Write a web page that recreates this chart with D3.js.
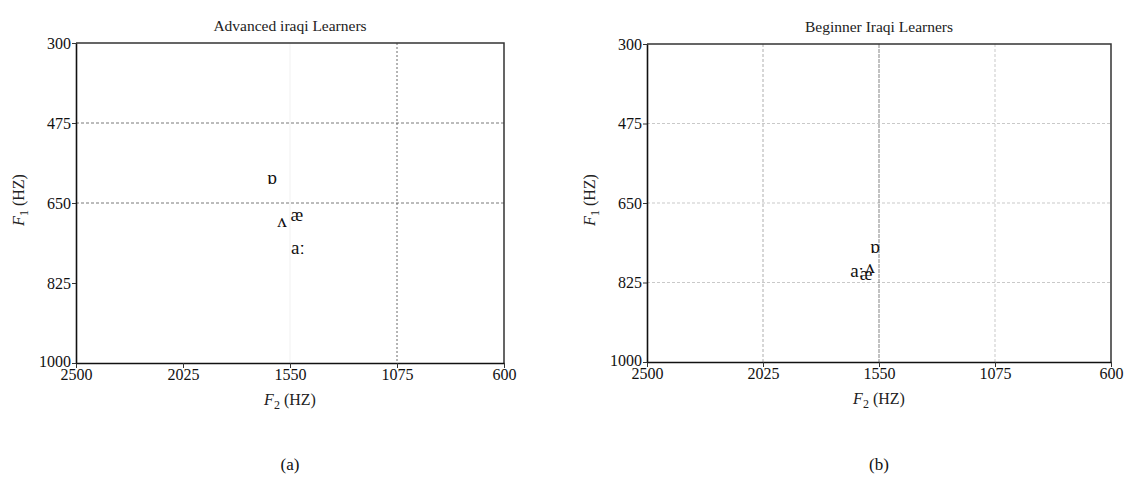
<!DOCTYPE html>
<html>
<head>
<meta charset="utf-8">
<script src="https://cdn.jsdelivr.net/npm/d3@7"></script>
<style>
    body { margin: 0; background: #fff; }
    svg { font-family: "Liberation Serif", "DejaVu Serif", serif; }
</style>
</head>
<body>
<div id="chart"></div>
<script>
// vowel formant data
var vowels = ["ɒ", "ʌ", "æ", "aː"];
var advancedF2 = [1630, 1586, 1520, 1515];
var advancedF1 = [595, 691, 676, 748];
var beginnerF2 = [1566, 1587, 1603, 1640];
var beginnerF1 = [747, 791, 806, 800];
var f2Ticks = [2500, 2025, 1550, 1075, 600];
var f1Ticks = [300, 475, 650, 825, 1000];

var svg = d3.select("#chart")
    .append("svg")
    .attr("width", 1125)
    .attr("height", 478);

function drawPanel(opts) {
    var x = d3.scaleLinear().domain([2500, 600]).range([opts.left, opts.right]);
    var y = d3.scaleLinear().domain([300, 1000]).range([opts.top, opts.bottom]);
    var g = svg.append("g");

    // grid lines
    g.selectAll(".hgrid")
        .data(opts.hGrid)
        .enter()
        .append("line")
        .attr("x1", opts.left).attr("x2", opts.right)
        .attr("y1", d => y(d)).attr("y2", d => y(d))
        .attr("stroke", opts.hColor)
        .attr("stroke-width", 0.8)
        .attr("stroke-dasharray", "3,2");

    g.selectAll(".vgrid")
        .data(opts.vGrid)
        .enter()
        .append("line")
        .attr("x1", d => x(d.v)).attr("x2", d => x(d.v))
        .attr("y1", opts.top).attr("y2", opts.bottom)
        .attr("stroke", d => d.color)
        .attr("stroke-width", 0.8)
        .attr("stroke-dasharray", d => d.dash);

    // top and right frame
    g.append("path")
        .attr("d", "M" + opts.left + "," + opts.top + "H" + opts.right + "V" + opts.bottom)
        .attr("fill", "none")
        .attr("stroke", "#333")
        .attr("stroke-width", 1.5);

    // axes
    var xAxis = g.append("g")
        .attr("transform", "translate(0," + opts.bottom + ")")
        .call(d3.axisBottom(x).tickValues(f2Ticks).tickFormat(d3.format("d"))
            .tickSize(5).tickSizeOuter(0).tickPadding(1));
    var yAxis = g.append("g")
        .attr("transform", "translate(" + opts.left + ",0)")
        .call(d3.axisLeft(y).tickValues(f1Ticks).tickFormat(d3.format("d"))
            .tickSize(4).tickSizeOuter(0).tickPadding(1));

    [xAxis, yAxis].forEach(function (a) {
        a.attr("font-family", null);
        a.select(".domain").attr("stroke", "#111").attr("stroke-width", 1.6);
        a.selectAll(".tick line").attr("stroke", "#333");
        a.selectAll("text")
            .style("font-size", "16px")
            .attr("fill", "#111");
    });
    // lowest y label sits just above the x labels, as in the figure
    yAxis.selectAll(".tick text").filter(d => d === 1000).attr("dy", "0.2em");

    // title
    g.append("text")
        .attr("x", (opts.left + opts.right) / 2)
        .attr("y", opts.top - 12)
        .attr("text-anchor", "middle")
        .style("font-size", "15.5px")
        .attr("fill", "#222")
        .text(opts.title);

    // x axis label
    var xl = g.append("text")
        .attr("x", (opts.left + opts.right) / 2)
        .attr("y", opts.bottom + 42)
        .attr("text-anchor", "middle")
        .style("font-size", "16px")
        .attr("fill", "#222");
    xl.append("tspan").style("font-style", "italic").text("F");
    xl.append("tspan").attr("dy", 4).style("font-size", "12px").text("2");
    xl.append("tspan").attr("dy", -4).text(" (HZ)");

    // y axis label
    var yl = g.append("text")
        .attr("transform", "translate(" + (opts.left - 52) + "," + ((opts.top + opts.bottom) / 2 - 3) + ")rotate(-90)")
        .attr("text-anchor", "middle")
        .style("font-size", "16px")
        .attr("fill", "#222");
    yl.append("tspan").style("font-style", "italic").text("F");
    yl.append("tspan").attr("dy", 4).style("font-size", "12px").text("1");
    yl.append("tspan").attr("dy", -4).text(" (HZ)");

    // vowel symbols
    g.selectAll(".vowel")
        .data(vowels.map((v, i) => ({ v: v, f2: opts.f2[i], f1: opts.f1[i] })))
        .enter()
        .append("text")
        .attr("x", d => x(d.f2))
        .attr("y", d => y(d.f1))
        .attr("dy", "0.3em")
        .attr("text-anchor", "middle")
        .style("font-size", "19px")
        .attr("fill", "#111")
        .text(d => d.v);

    // caption
    g.append("text")
        .attr("x", (opts.left + opts.right) / 2)
        .attr("y", 470)
        .attr("text-anchor", "middle")
        .style("font-size", "17px")
        .attr("fill", "#111")
        .text(opts.caption);
}

drawPanel({
    left: 76, right: 504, top: 43, bottom: 363,
    title: "Advanced iraqi Learners",
    caption: "(a)",
    f2: advancedF2, f1: advancedF1,
    hGrid: [475, 650],
    hColor: "#555",
    vGrid: [{ v: 1550, color: "#eee", dash: "none" }, { v: 1075, color: "#444", dash: "2,2" }]
});

drawPanel({
    left: 647, right: 1111, top: 44, bottom: 362,
    title: "Beginner Iraqi Learners",
    caption: "(b)",
    f2: beginnerF2, f1: beginnerF1,
    hGrid: [475, 650, 825],
    hColor: "#bbb",
    vGrid: [{ v: 2025, color: "#999", dash: "3,2" }, { v: 1550, color: "#666", dash: "4,1" }, { v: 1075, color: "#bbb", dash: "3,2" }]
});
</script>
</body>
</html>
